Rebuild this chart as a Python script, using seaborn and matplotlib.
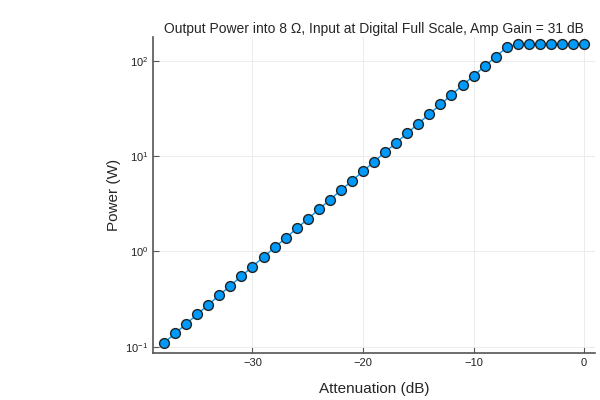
import matplotlib
matplotlib.use("Agg")
import matplotlib.pyplot as plt
import seaborn as sns
import pandas as pd

# attenuation steps (dB) and measured output power (W)
attenuation = [-38, -37, -36, -35, -34, -33, -32, -31, -30, -29,
               -28, -27, -26, -25, -24, -23, -22, -21, -20, -19,
               -18, -17, -16, -15, -14, -13, -12, -11, -10, -9,
               -8, -7, -6, -5, -4, -3, -2, -1, 0]
power = [0.110, 0.138, 0.174, 0.219, 0.276, 0.348, 0.438, 0.551, 0.694, 0.874,
         1.10, 1.38, 1.74, 2.19, 2.76, 3.48, 4.38, 5.51, 6.94, 8.74,
         11.0, 13.8, 17.4, 21.9, 27.6, 34.8, 43.8, 55.1, 69.4, 87.4,
         110, 138, 150, 150, 150, 150, 150, 150, 150]

df = pd.DataFrame({"Attenuation": attenuation, "Power": power})

sns.set_style("white")
plt.rcParams["font.family"] = ["Liberation Sans", "DejaVu Sans"]

fig = plt.figure(figsize=(6, 4), dpi=100)
ax = fig.add_axes([0.255, 0.118, 0.737, 0.79])

sns.lineplot(data=df, x="Attenuation", y="Power", ax=ax,
             color="#009afa", linewidth=1, zorder=2)
sns.scatterplot(data=df, x="Attenuation", y="Power", ax=ax,
                color="#009afa", edgecolor="#222222", linewidth=1,
                s=50, zorder=3)

ax.set_yscale("log")
ax.set_xlim(-39.0, 1.0)
ax.set_ylim(0.0865, 178)
ax.set_xticks([-30, -20, -10, 0])
ax.set_xticklabels(["\u221230", "\u221220", "\u221210", "0"])
ax.minorticks_off()

ax.grid(True, color="#ececec", linewidth=0.7)
for s in ["top", "right"]:
    ax.spines[s].set_visible(False)
for s in ["left", "bottom"]:
    ax.spines[s].set_color("#555555")
    ax.spines[s].set_linewidth(1.2)
ax.tick_params(direction="in", length=4, width=0.8, color="#555555",
               labelsize=8, labelcolor="#222222", left=True, bottom=True)

ax.set_xlabel("Attenuation (dB)", fontsize=11, labelpad=10)
ax.set_ylabel("Power (W)", fontsize=11, labelpad=3)
ax.set_title("Output Power into 8 \u03a9, Input at Digital Full Scale, Amp Gain = 31 dB",
             fontsize=10, pad=3)

fig.savefig("out.png", dpi=100)
